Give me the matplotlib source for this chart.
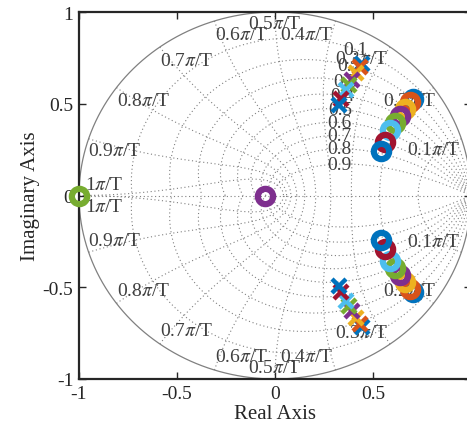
import matplotlib
matplotlib.use("Agg")
import matplotlib.pyplot as plt
import numpy as np

plt.rcParams["font.family"] = ["Liberation Serif", "DejaVu Serif"]
plt.rcParams["mathtext.fontset"] = "stix"
plt.rcParams["axes.unicode_minus"] = False

# pole / zero locations (upper half; conjugates are drawn too)
pole_re = [0.445, 0.434, 0.412, 0.392, 0.375, 0.361, 0.336, 0.328]
pole_im = [0.714, 0.699, 0.668, 0.632, 0.604, 0.577, 0.527, 0.491]
zero_re = [0.706, 0.687, 0.661, 0.636, 0.612, 0.587, 0.559, 0.540]
zero_im = [0.528, 0.507, 0.472, 0.432, 0.395, 0.359, 0.294, 0.245]
# extra real zeros: series index -> location
real_zeros = {3: -0.05, 4: -1.0}

colors = ["#0072BD", "#D95319", "#EDB120", "#7E2F8E", "#77AC30",
          "#4DBEEE", "#A2142F", "#0072BD"]

zetas = [0.1, 0.2, 0.3, 0.4, 0.5, 0.6, 0.7, 0.8, 0.9]
wn_k = [0.1, 0.2, 0.3, 0.4, 0.5, 0.6, 0.7, 0.8, 0.9, 1.0]
# label centres for wn labels (upper half, mirrored below)
wn_lab_x = [0.81, 0.689, 0.444, 0.163, 0.0, -0.168, -0.449, -0.673, -0.82, -0.872]
wn_lab_y = [0.253, 0.52, 0.749, 0.88, 0.935, 0.88, 0.733, 0.515, 0.243, 0.06]

grid_c = "#808080"
text_c = "#404040"

fig = plt.figure(figsize=(4.67, 4.35), dpi=100)
ax = fig.add_axes([79 / 467, 55 / 435, 392 / 467, 367 / 435])

dot = dict(color=grid_c, lw=0.8, ls=(0, (1, 2.4)), zorder=1)

# unit circle
t = np.linspace(0, 2 * np.pi, 400)
ax.plot(np.cos(t), np.sin(t), color=grid_c, lw=0.9, zorder=1)
ax.plot([-1, 1], [0, 0], **dot)

# constant damping curves
th = np.linspace(0, np.pi, 300)
for z in zetas:
    r = np.exp(-z * th / np.sqrt(1 - z ** 2))
    ax.plot(r * np.cos(th), r * np.sin(th), **dot)
    ax.plot(r * np.cos(th), -r * np.sin(th), **dot)
    w = 0.35 * np.pi
    p = np.exp(complex(-z * w, w * np.sqrt(1 - z ** 2)))
    ax.text(p.real, p.imag, f"{z:g}", ha="center", va="center",
            fontsize=14, color=text_c, zorder=2)

# constant natural frequency curves
phi = np.linspace(np.pi / 2, np.pi, 200)
for k, lx, ly in zip(wn_k, wn_lab_x, wn_lab_y):
    s = k * np.pi * np.exp(1j * phi)
    zc = np.exp(s)
    ax.plot(zc.real, zc.imag, **dot)
    ax.plot(zc.real, -zc.imag, **dot)
    lab = f"{k:g}$\\pi$/T"
    ax.text(lx, ly, lab, ha="center", va="center", fontsize=14,
            color=text_c, zorder=2)
    ax.text(lx, -ly, lab, ha="center", va="center", fontsize=14,
            color=text_c, zorder=2)

# poles and zeros
for i, c in enumerate(colors):
    ax.plot([pole_re[i], pole_re[i]], [pole_im[i], -pole_im[i]], "x",
            color=c, ms=10, mew=3.2, zorder=3, clip_on=False)
    zr = [zero_re[i], zero_re[i]]
    zi = [zero_im[i], -zero_im[i]]
    if i in real_zeros:
        zr.append(real_zeros[i])
        zi.append(0.0)
    ax.plot(zr, zi, "o", color=c, mfc="none", ms=11, mew=4.5, zorder=3,
            clip_on=False)

ax.set_xlim(-1, 1)
ax.set_ylim(-1, 1)
ax.set_xticks([-1, -0.5, 0, 0.5, 1])
ax.set_yticks([-1, -0.5, 0, 0.5, 1])
# the "1" label falls outside the visible figure in the reference
ax.set_xticklabels(["-1", "-0.5", "0", "0.5", ""])
ax.set_yticklabels(["-1", "-0.5", "0", "0.5", "1"])
ax.tick_params(direction="in", length=5, width=1, labelsize=14,
               colors="#262626", top=True, right=True, pad=4)
for sp in ax.spines.values():
    sp.set_linewidth(1.6)
    sp.set_color("#262626")
ax.set_xlabel("Real Axis", fontsize=15, color="#262626", labelpad=2)
ax.set_ylabel("Imaginary Axis", fontsize=15, color="#262626", labelpad=2)

fig.savefig("out.png", dpi=100)
